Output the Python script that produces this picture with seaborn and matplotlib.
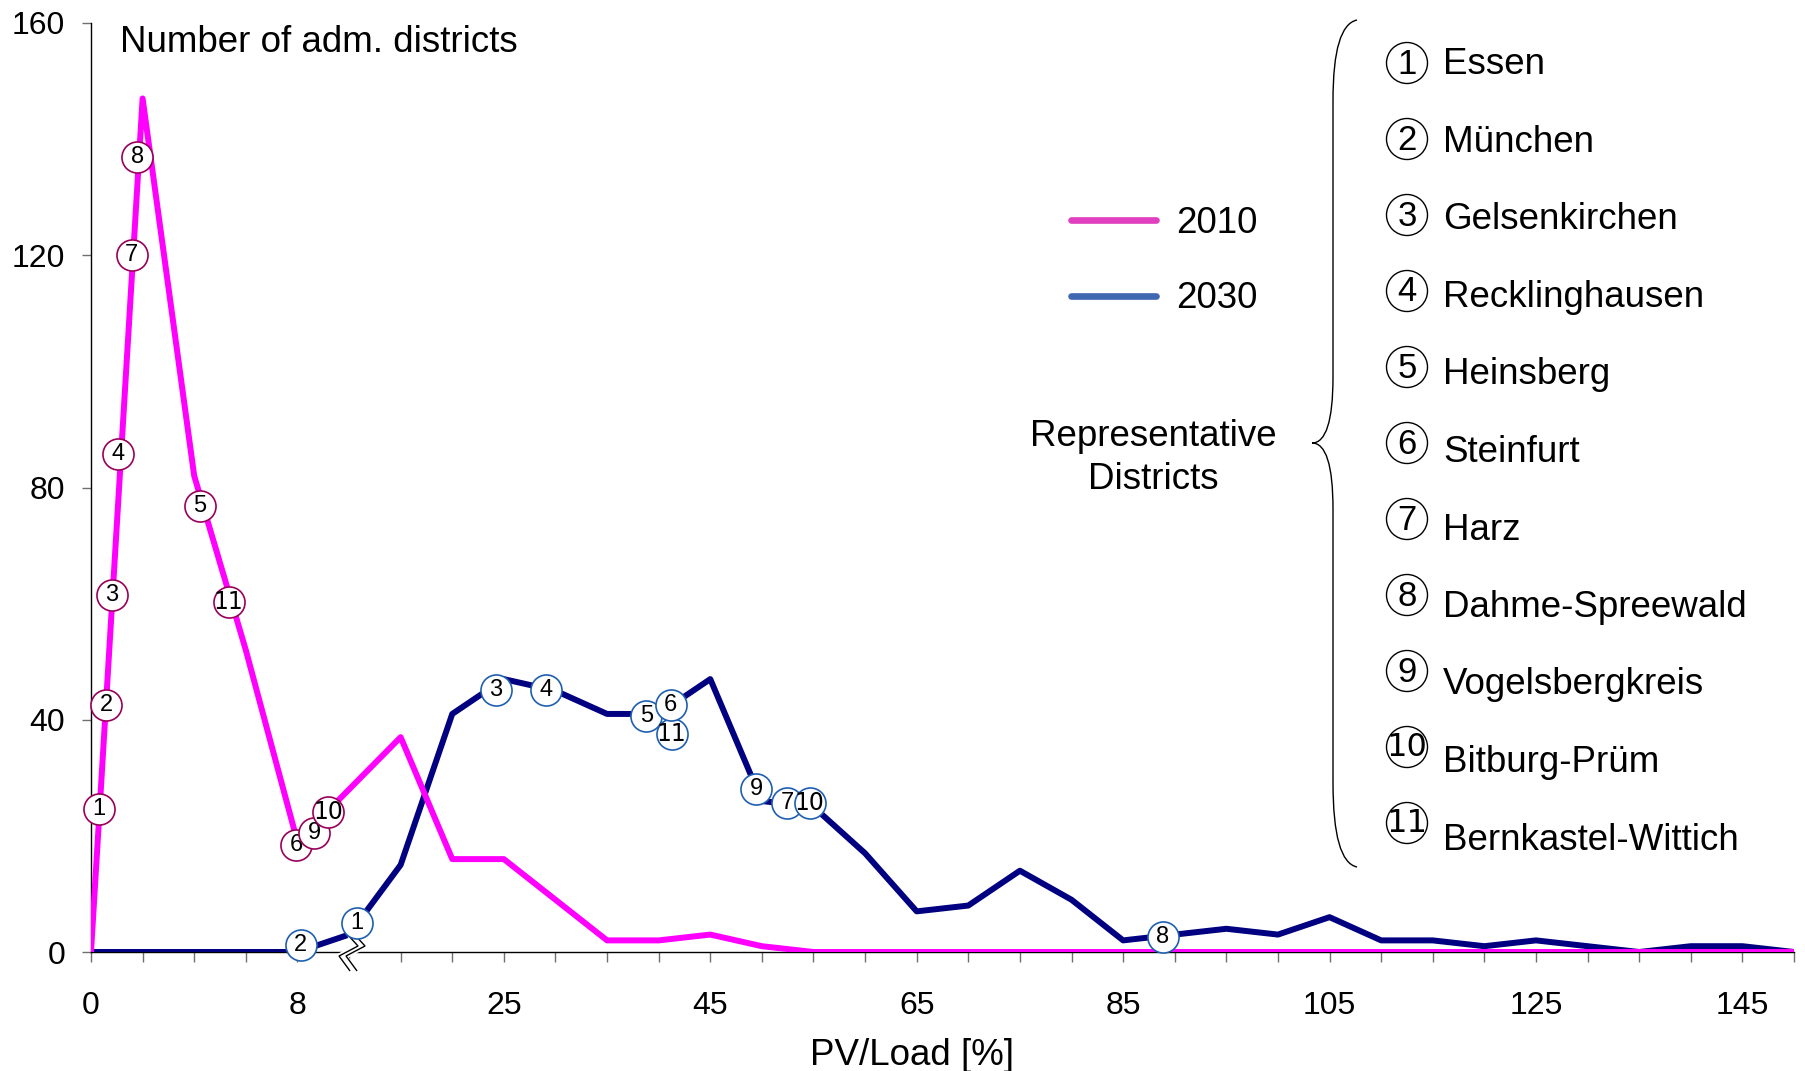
import numpy as np
import pandas as pd
import matplotlib
matplotlib.use("Agg")
import matplotlib.pyplot as plt
import seaborn as sns
from matplotlib.lines import Line2D
from matplotlib.path import Path
from matplotlib.patches import PathPatch, Ellipse
from matplotlib.transforms import Affine2D, ScaledTranslation

# ---------------- data ----------------
pv_load_categories = [0, 2, 4, 6, 8, 10, 15, 20, 25, 30, 35, 40, 45, 50, 55, 60, 65,
                      70, 75, 80, 85, 90, 95, 100, 105, 110, 115, 120, 125, 130, 135,
                      140, 145, 150]
counts_2010 = [0, 147, 82, 52, 19, 28, 37, 16, 16, 9, 2, 2, 3, 1, 0, 0, 0,
               0, 0, 0, 0, 0, 0, 0, 0, 0, 0, 0, 0, 0, 0, 0, 0, 0]
counts_2030 = [0, 0, 0, 0, 0, 3, 15, 41, 47, 45, 41, 41, 47, 26, 25, 17, 7,
               8, 14, 9, 2, 3, 4, 3, 6, 2, 2, 1, 2, 1, 0, 1, 1, 0]
xtick_labels = ["0", "8", "25", "45", "65", "85", "105", "125", "145"]
ytick_values = [0, 40, 80, 120, 160]

# representative district markers on the curves (position on category axis, count)
m2010_ids = ["1", "2", "3", "4", "7", "8", "5", "11", "6", "9", "10"]
m2010_x = [0.155, 0.30, 0.40, 0.53, 0.79, 0.90, 2.11, 2.67, 3.97, 4.33, 4.60]
m2010_y = [24.6, 42.5, 61.5, 85.8, 120.1, 137.0, 76.8, 60.2, 18.4, 20.5, 24.1]
m2030_ids = ["2", "1", "3", "4", "5", "11", "6", "9", "7", "10", "8"]
m2030_x = [4.06, 5.15, 7.84, 8.82, 10.76, 11.25, 11.23, 12.89, 13.49, 13.93, 20.77]
m2030_y = [1.15, 5.0, 45.1, 45.2, 40.6, 37.6, 42.5, 28.1, 25.7, 25.7, 2.6]

district_ids = ["1", "2", "3", "4", "5", "6", "7", "8", "9", "10", "11"]
district_names = ["Essen", "München", "Gelsenkirchen", "Recklinghausen", "Heinsberg",
                  "Steinfurt", "Harz", "Dahme-Spreewald", "Vogelsbergkreis",
                  "Bitburg-Prüm", "Bernkastel-Wittich"]
years = ["2010", "2030"]

# ---------------- style ----------------
sns.set_theme(style="white")
plt.rcParams["font.family"] = ["Liberation Sans", "DejaVu Sans"]
plt.rcParams["text.color"] = "black"
plt.rcParams["axes.labelcolor"] = "black"
plt.rcParams["xtick.color"] = "black"
plt.rcParams["ytick.color"] = "black"

W, H = 1806, 1071
fig = plt.figure(figsize=(W / 100, H / 100), dpi=100)
ax = fig.add_axes([91 / W, 1 - 952 / H, (1794 - 91) / W, (952 - 23) / H])

pos = np.arange(len(pv_load_categories))
df = pd.DataFrame({
    "pos": np.concatenate([pos, pos]),
    "count": counts_2010 + counts_2030,
    "year": ["2010"] * len(pos) + ["2030"] * len(pos),
})
line_colors = {"2010": "#FF00FF", "2030": "#000080"}
sns.lineplot(data=df, x="pos", y="count", hue="year", hue_order=["2030", "2010"],
             palette=line_colors, linewidth=4.3, legend=False, estimator=None,
             sort=False, ax=ax, zorder=3)

# markers
def draw_markers(xs, ys, ids, edge, z0):
    for i, (x, y, t) in enumerate(zip(xs, ys, ids)):
        ax.scatter([x], [y], s=500, facecolor="white", edgecolor=edge,
                   linewidth=1.2, zorder=z0 + 2 * i, clip_on=False)
        ax.text(x, y, t, ha="center", va="center", fontsize=17, color="black",
                zorder=z0 + 2 * i + 1,
                family="Liberation Sans Narrow" if len(t) > 1 else "Liberation Sans")

draw_markers(m2010_x, m2010_y, m2010_ids, "#99005A", 10)
draw_markers(m2030_x, m2030_y, m2030_ids, "#1F5FB0", 40)

# axes
ax.set_xlim(0, len(pv_load_categories) - 1)
ax.set_ylim(0, 160)
ax.set_xticks(pos)
ax.set_xticklabels([xtick_labels[i // 4] if i % 4 == 0 else "" for i in pos])
ax.set_yticks(ytick_values)
ax.set_yticklabels([str(v) for v in ytick_values])
ax.tick_params(axis="x", direction="out", length=7, width=1, color="#707070",
               labelcolor="black", labelsize=23, pad=21, bottom=True)
ax.tick_params(axis="y", direction="out", length=6.5, width=1, color="#707070",
               labelcolor="black", labelsize=23, pad=12, left=True)
for s in ["top", "right"]:
    ax.spines[s].set_visible(False)
for s in ["left", "bottom"]:
    ax.spines[s].set_color("black")
    ax.spines[s].set_linewidth(1.0)
ax.set_ylabel("")
ax.set_xlabel("PV/Load [%]", fontsize=26.5)
ax.xaxis.set_label_coords(0.482, -0.1115)
ax.xaxis.label.set_va("center")

ax.text(0.017, 0.979, "Number of adm. districts", transform=ax.transAxes,
        ha="left", va="center", fontsize=26.5)

# axis break symbol at category index 5
brk = Path([(-2, 18), (9, 6), (-10, -4), (1, -19)],
           [Path.MOVETO, Path.LINETO, Path.LINETO, Path.LINETO])
base_t = ScaledTranslation(5, 0, ax.transData)
ax.add_patch(PathPatch(brk, transform=Affine2D().translate(3.5, 0) + base_t,
                       facecolor="none", edgecolor="white", linewidth=6,
                       clip_on=False, zorder=5))
for dx in (0, 7):
    ax.add_patch(PathPatch(brk, transform=Affine2D().translate(dx, 0) + base_t,
                           facecolor="none", edgecolor="black", linewidth=1.0,
                           clip_on=False, zorder=6))

# legend
handles = [Line2D([], [], color="#E040C0", lw=4.8), Line2D([], [], color="#4068B0", lw=4.8)]
ax.legend(handles, years, loc="upper left", bbox_to_anchor=(1071 / W, 1 - 206 / H),
          bbox_transform=fig.transFigure, frameon=False, fontsize=26.5,
          handlelength=2.3, handletextpad=0.55, labelspacing=1.1,
          borderpad=0, borderaxespad=0)

# representative districts block
fig.text(1153 / W, 1 - 458 / H, "Representative\nDistricts", ha="center", va="center",
         fontsize=26.5, multialignment="center", linespacing=1.27)

def fx(x):
    return x / W

def fy(y):
    return 1 - y / H

brace_pts = [(1357, 20), (1333, 25), (1333, 100), (1333, 377), (1333, 443), (1312, 443),
             (1333, 443), (1333, 509), (1333, 783), (1333, 862), (1357, 867)]
brace_codes = [Path.MOVETO, Path.CURVE3, Path.CURVE3, Path.LINETO, Path.CURVE3, Path.CURVE3,
               Path.CURVE3, Path.CURVE3, Path.LINETO, Path.CURVE3, Path.CURVE3]
brace = Path([(fx(x), fy(y)) for x, y in brace_pts], brace_codes)
fig.add_artist(PathPatch(brace, transform=fig.transFigure, facecolor="none",
                         edgecolor="black", linewidth=1.0))

for i, (cid, name) in enumerate(zip(district_ids, district_names)):
    ty = 65 + 77.5 * i
    cy = ty - 2 - 1.5 * i
    fig.add_artist(Ellipse((fx(1407), fy(cy)), 41 / W, 41 / H, transform=fig.transFigure,
                           facecolor="white", edgecolor="black", linewidth=1.0))
    fig.text(fx(1407), fy(cy + 1), cid, ha="center", va="center",
             fontsize=23 if len(cid) > 1 else 25,
             family="Liberation Sans Narrow" if len(cid) > 1 else "Liberation Sans")
    fig.text(fx(1443), fy(ty), name, ha="left", va="center", fontsize=26.5)

fig.savefig("out.png", dpi=100)
